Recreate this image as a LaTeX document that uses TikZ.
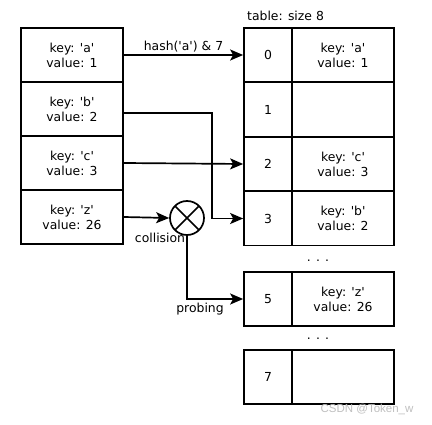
\documentclass[tikz,border=0pt]{standalone}
\usepackage{fontspec}
\setmainfont{DejaVu Sans}[Ligatures=TeXOff]
\newfontfamily\wmfont{Liberation Sans}
\usetikzlibrary{arrows.meta}
\begin{document}
\begin{tikzpicture}[x=1pt,y=-1pt,
  every node/.style={font=\fontsize{12.4}{15}\selectfont},
  cell/.style={draw, line width=1.7pt, minimum height=54pt, inner sep=0pt, align=center},
  leftcell/.style={cell, minimum width=102pt},
  idxcell/.style={cell, minimum width=48pt},
  valcell/.style={cell, minimum width=102pt},
  arr/.style={line width=1.7pt, -{Stealth[length=13pt,width=11pt,inset=3pt]}},
  lbl/.style={inner sep=1pt}]
\useasboundingbox (0,0) rectangle (432,425);
% left column
\node[leftcell] (la) at (72,55) {key: 'a'\\value: 1};
\node[leftcell] (lb) at (72,109) {key: 'b'\\value: 2};
\node[leftcell] (lc) at (72,163) {key: 'c'\\value: 3};
\node[leftcell] (lz) at (72,217) {key: 'z'\\value: 26};
% table
\node[lbl, anchor=west] (title) at (246,16) {table: size 8};
\node[idxcell] (t0) at (268,55) {0};
\node[valcell] (v0) at (343,55) {key: 'a'\\value: 1};
\node[idxcell] (t1) at (268,109.5) {1};
\node[valcell] (v1) at (343,109.5) {};
\node[idxcell] (t2) at (268,164) {2};
\node[valcell] (v2) at (343,164) {key: 'c'\\value: 3};
\node[idxcell] (t3) at (268,218.5) {3};
\node[valcell] (v3) at (343,218.5) {key: 'b'\\value: 2};
\node[lbl] (d1) at (318,261) {. . .};
\node[idxcell] (t5) at (268,299) {5};
\node[valcell] (v5) at (343,299) {key: 'z'\\value: 26};
\node[lbl] (d2) at (318,339) {. . .};
\node[idxcell] (t7) at (268,377) {7};
\node[valcell] (v7) at (343,377) {};
% collision
\node[circle, draw, line width=1.7pt, minimum size=34pt, inner sep=0pt,
  path picture={\draw[line width=1.7pt] (path picture bounding box.north west) -- (path picture bounding box.south east)
  (path picture bounding box.north east) -- (path picture bounding box.south west);}] (coll) at (187,218) {};
\node[lbl] (colltxt) at (160,238) {collision};
\node[lbl] (probtxt) at (200,309) {probing};
\coordinate (bturn) at (212,160);
% arrows
\draw[arr] (la.east) -- node[lbl, above=1pt] (hashtxt) {hash('a') \& 7} (t0.west);
\draw[arr] ([yshift=-4pt]lb.east) -| (bturn) |- (t3.west);
\draw[arr] (lc.east) -- (t2.west);
\draw[arr] (lz.east) -- (coll.west);
\draw[arr] (coll.south) |- (t5.west);
% watermark
\node[text=black!25, font=\wmfont\fontsize{11.5}{13}\selectfont] (wm) at (367,409) {CSDN @Token\_w};
\end{tikzpicture}
\end{document}
